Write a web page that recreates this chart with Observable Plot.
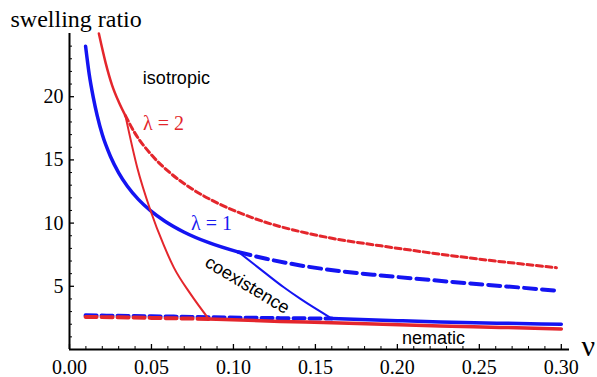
<!DOCTYPE html>
<html>
<head>
<meta charset="utf-8">
<script src="https://cdn.jsdelivr.net/npm/d3@7"></script>
<script src="https://cdn.jsdelivr.net/npm/@observablehq/plot@0.6"></script>
<style>
  html, body { margin: 0; padding: 0; background: #fff; }
  #chart svg { display: block; }
</style>
</head>
<body>
<div id="chart"></div>
<script>
// ---- data (ν, swelling ratio) ----
const blueIsoSolid = [[0.0098,24.0],[0.012,21.8],[0.0145,19.95],[0.0169,18.5],[0.02,17.0],[0.025,15.27],[0.030,13.98],[0.0352,12.94],[0.042,11.88],[0.0494,10.99],[0.058,10.17],[0.0697,9.3],[0.085,8.45],[0.1032,7.7]];
const blueIsoDashed = [[0.1032,7.7],[0.12,7.18],[0.1409,6.65],[0.165,6.2],[0.19,5.86],[0.22,5.5],[0.25,5.17],[0.275,4.9],[0.297,4.66]];
const blueCoex = [[0.1032,7.7],[0.115,6.5],[0.1307,4.92],[0.1409,4.0],[0.16,2.45]];
const blueNemDashed = [[0.0098,2.7],[0.05,2.63],[0.085,2.56],[0.1287,2.48],[0.16,2.45]];
const blueNemSolid = [[0.16,2.45],[0.2,2.28],[0.2262,2.18],[0.2628,2.08],[0.30,2.0]];

const redIsoSolid = [[0.0179,25.0],[0.022,22.7],[0.026,20.9],[0.030,19.6],[0.0341,18.5]];
const redIsoDashed = [[0.0341,18.5],[0.04,17.1],[0.05,15.4],[0.0616,13.95],[0.0748,12.7],[0.09,11.6],[0.105,10.75],[0.12,10.05],[0.14,9.35],[0.16,8.8],[0.19,8.2],[0.22,7.65],[0.25,7.15],[0.275,6.78],[0.297,6.47]];
const redCoex = [[0.0341,18.5],[0.0413,14.4],[0.0494,11.0],[0.0575,8.25],[0.0636,6.5],[0.0738,4.4],[0.0849,2.42]];
const redNemDashed = [[0.0098,2.58],[0.05,2.5],[0.0849,2.42]];
const redNemSolid = [[0.0849,2.42],[0.1287,2.22],[0.16,2.12],[0.2262,1.85],[0.2628,1.75],[0.30,1.63]];

// ---- ticks ----
const xMajor = [0, 0.05, 0.10, 0.15, 0.20, 0.25, 0.30];
const xMinor = [0.01,0.02,0.03,0.04,0.06,0.07,0.08,0.09,0.11,0.12,0.13,0.14,0.16,0.17,0.18,0.19,0.21,0.22,0.23,0.24,0.26,0.27,0.28,0.29];
const yMajor = [5, 10, 15, 20];
const yMinor = [1,2,3,4,6,7,8,9,11,12,13,14,16,17,18,19,21,22,23,24];

// ---- annotations ----
const regionLabels = [
  {x: 0.0652, y: 21.5, text: "isotropic", rotate: 0},
  {x: 0.1085, y: 5.1, text: "coexistence", rotate: 31},
  {x: 0.222, y: 0.87, text: "nematic", rotate: 0}
];
const lambdaLabels = [
  {x: 0.0573, y: 17.9, text: "λ = 2", color: "#e3262b"},
  {x: 0.0866, y: 9.97, text: "λ = 1", color: "#1a1af0"}
];

const BLUE = "#1414f2";
const RED = "#e4262c";
const serif = "'Liberation Serif', 'DejaVu Serif', serif";
const sans = "'Liberation Sans', Arial, sans-serif";

const FRAME_W = 597 - 69 - 28;
const FRAME_H = 377 - 33 - 28;

const chart = Plot.plot({
  width: 597,
  height: 377,
  marginLeft: 69,
  marginRight: 28,
  marginTop: 33,
  marginBottom: 28,
  style: {background: "#fff", fontFamily: serif, overflow: "visible"},
  x: {domain: [0, 0.305], axis: null},
  y: {domain: [0, 25], axis: null},
  marks: [
    // inward ticks
    Plot.tickX(xMajor, {x: d => d, insetTop: FRAME_H - 5, stroke: "#000", strokeWidth: 1.3}),
    Plot.tickX(xMinor, {x: d => d, insetTop: FRAME_H - 3, stroke: "#000", strokeWidth: 1}),
    Plot.tickY(yMajor, {y: d => d, insetRight: FRAME_W - 5, stroke: "#000", strokeWidth: 1.3}),
    Plot.tickY(yMinor, {y: d => d, insetRight: FRAME_W - 3, stroke: "#000", strokeWidth: 1}),
    // axes lines
    Plot.ruleX([0], {stroke: "#000", strokeWidth: 2}),
    Plot.ruleY([0], {stroke: "#000", strokeWidth: 2}),
    // tick labels
    Plot.axisX({ticks: xMajor, tickSize: 0, tickPadding: 10, tickFormat: d3.format(".2f"), fontSize: 20, fontFamily: serif, label: null}),
    Plot.axisY({ticks: yMajor, tickSize: 0, tickPadding: 6, tickFormat: d3.format("d"), fontSize: 20, fontFamily: serif, label: null}),
    // blue (λ = 1)
    Plot.line(blueIsoSolid, {stroke: BLUE, strokeWidth: 3.5, curve: "monotone-x"}),
    Plot.line(blueIsoDashed, {stroke: BLUE, strokeWidth: 4, strokeDasharray: "12,6", curve: "monotone-x"}),
    Plot.line(blueCoex, {stroke: BLUE, strokeWidth: 2, curve: "monotone-x"}),
    Plot.line(blueNemDashed, {stroke: BLUE, strokeWidth: 4, strokeDasharray: "11,5", curve: "monotone-x"}),
    Plot.line(blueNemSolid, {stroke: BLUE, strokeWidth: 3.5, curve: "monotone-x"}),
    // red (λ = 2)
    Plot.line(redIsoSolid, {stroke: RED, strokeWidth: 2.5, curve: "monotone-x"}),
    Plot.line(redIsoDashed, {stroke: RED, strokeWidth: 3, strokeDasharray: "6,3.5", curve: "monotone-x"}),
    Plot.line(redCoex, {stroke: RED, strokeWidth: 2, curve: "monotone-x"}),
    Plot.line(redNemDashed, {stroke: RED, strokeWidth: 4, strokeDasharray: "11,5", curve: "monotone-x"}),
    Plot.line(redNemSolid, {stroke: RED, strokeWidth: 3.5, curve: "monotone-x"}),
    // labels
    Plot.text(regionLabels, {x: "x", y: "y", text: "text", rotate: "rotate", fontSize: 18, fontFamily: sans, fill: "#000"}),
    Plot.text(lambdaLabels, {x: "x", y: "y", text: "text", fill: "color", fontSize: 20, fontFamily: serif}),
    Plot.text(["swelling ratio"], {x: -0.036, y: 26.15, text: d => d, textAnchor: "start", fontSize: 24, fontFamily: serif, fill: "#000"}),
    Plot.text(["ν"], {x: 0.3165, y: 0.25, text: d => d, fontSize: 30, fontFamily: serif, fill: "#000"})
  ]
});
document.getElementById("chart").appendChild(chart);
</script>
</body>
</html>
